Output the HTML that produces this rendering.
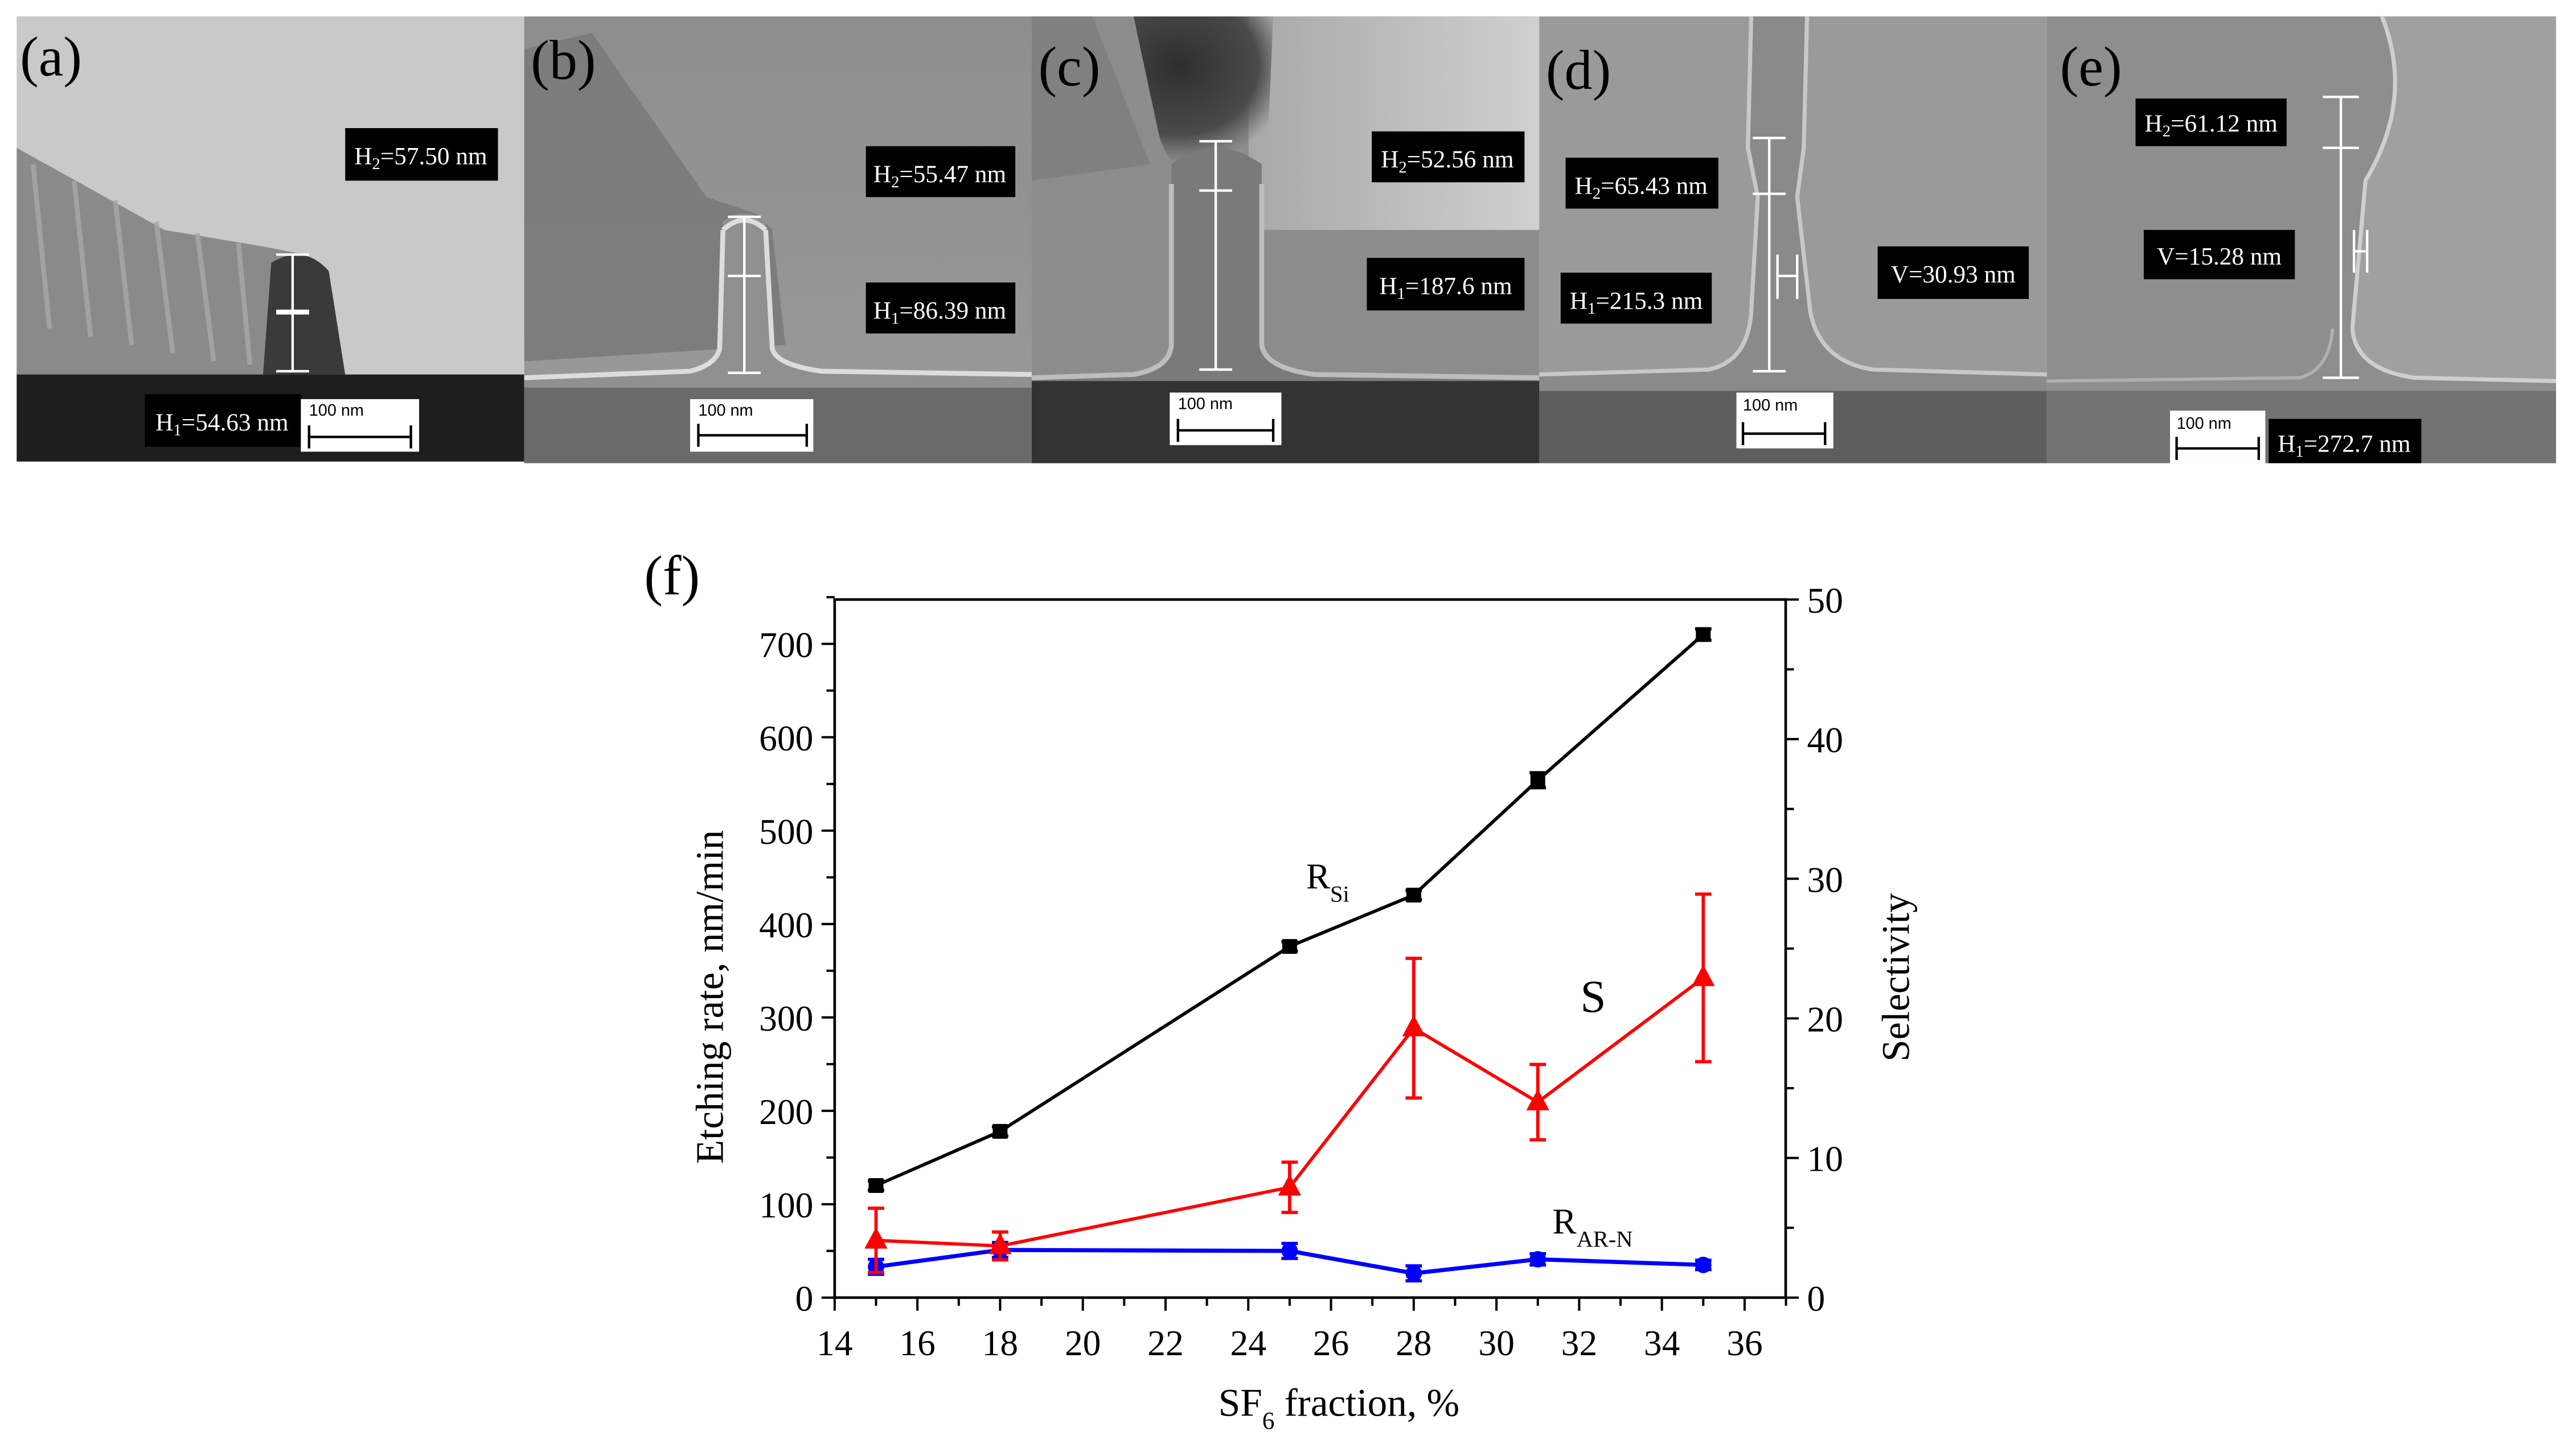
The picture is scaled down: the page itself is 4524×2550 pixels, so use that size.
<!DOCTYPE html>
<html><head><meta charset="utf-8"><style>
html,body{margin:0;padding:0;background:#fff}
svg{display:block}
text{font-family:"Liberation Serif",serif}
</style></head><body>
<svg id="fig" width="4524" height="2550" viewBox="0 0 1568 884">
<defs>
<linearGradient id="gb" x1="0" y1="0" x2="0" y2="1"><stop offset="0" stop-color="#8e8e8e"/><stop offset="1" stop-color="#9a9a9a"/></linearGradient>
<linearGradient id="gcr" x1="0" y1="0" x2="1" y2="0"><stop offset="0" stop-color="#a8a8a8"/><stop offset="1" stop-color="#d0d0d0"/></linearGradient>
<radialGradient id="gcd" cx="0.5" cy="0.3" r="0.6"><stop offset="0" stop-color="#2e2e2e"/><stop offset="0.7" stop-color="#4a4a4a"/><stop offset="1" stop-color="#5a5a5a" stop-opacity="0"/></radialGradient>
</defs>

<!-- Panel a -->
<g>
<rect x="10" y="10" width="309" height="271" fill="#c9c9c9"/>
<path d="M10 90 L100 140 L160 150 L185 155 L200 180 L205 228 L10 228 Z" fill="#8a8a8a"/>
<g stroke="#a8a8a8" stroke-width="3" opacity="0.8"><line x1="20" y1="100" x2="30" y2="200"/><line x1="45" y1="110" x2="55" y2="205"/><line x1="70" y1="122" x2="80" y2="210"/><line x1="95" y1="135" x2="105" y2="215"/><line x1="120" y1="142" x2="130" y2="220"/><line x1="145" y1="148" x2="152" y2="222"/></g>
<path d="M165 160 Q185 148 200 165 L210 228 L160 228 Z" fill="#3a3a3a"/>
<rect x="10" y="228" width="309" height="53" fill="#1e1e1e"/>
<g stroke="#fff" stroke-width="1.5"><line x1="178" y1="155" x2="178" y2="226"/><line x1="168" y1="155" x2="188" y2="155"/><line x1="168" y1="190" x2="188" y2="190" stroke-width="3"/><line x1="168" y1="226" x2="188" y2="226"/></g>
<rect x="210" y="78" width="93" height="32" fill="#000"/><text x="256" y="100" fill="#fff" font-size="15" text-anchor="middle">H<tspan font-size="10" dy="3">2</tspan><tspan dy="-3">=57.50 nm</tspan></text>
<rect x="88" y="240" width="95" height="32" fill="#000"/><text x="135" y="262" fill="#fff" font-size="15" text-anchor="middle">H<tspan font-size="10" dy="3">1</tspan><tspan dy="-3">=54.63 nm</tspan></text>
<rect x="183" y="243" width="72" height="32" fill="#fff"/><text x="188" y="253" font-size="10" style="font-family:'Liberation Sans',sans-serif">100 nm</text>
<g stroke="#000" stroke-width="1.5"><line x1="188" y1="266" x2="250" y2="266"/><line x1="188" y1="259" x2="188" y2="273"/><line x1="250" y1="259" x2="250" y2="273"/></g>
<text x="12" y="46" font-size="34">(a)</text>
</g>

<!-- Panel b -->
<g>
<rect x="319" y="10" width="309" height="272" fill="url(#gb)"/>
<path d="M319 30 L360 20 L430 120 L460 130 L470 140 L478 210 L319 220 Z" fill="#777" opacity="0.8"/>
<path d="M440 135 Q453 125 466 135 L470 212 Q480 222 500 225 L628 228 L628 282 L319 282 L319 230 L420 225 Q436 222 438 212 Z" fill="#909090"/>
<path d="M440 140 Q453 128 466 140" stroke="#ddd" stroke-width="3" fill="none"/>
<path d="M440 140 L438 212 Q436 222 420 226 L319 230" stroke="#dcdcdc" stroke-width="3" fill="none"/>
<path d="M466 140 L470 212 Q472 222 500 226 L628 228" stroke="#dcdcdc" stroke-width="3" fill="none"/>
<rect x="319" y="236" width="309" height="46" fill="#6a6a6a"/>
<g stroke="#fff" stroke-width="1.5"><line x1="453" y1="132" x2="453" y2="227"/><line x1="443" y1="132" x2="463" y2="132"/><line x1="443" y1="168" x2="463" y2="168"/><line x1="443" y1="227" x2="463" y2="227"/></g>
<rect x="527" y="89" width="91" height="31" fill="#000"/><text x="572" y="111" fill="#fff" font-size="15" text-anchor="middle">H<tspan font-size="10" dy="3">2</tspan><tspan dy="-3">=55.47 nm</tspan></text>
<rect x="527" y="172" width="91" height="31" fill="#000"/><text x="572" y="194" fill="#fff" font-size="15" text-anchor="middle">H<tspan font-size="10" dy="3">1</tspan><tspan dy="-3">=86.39 nm</tspan></text>
<rect x="420" y="243" width="75" height="32" fill="#fff"/><text x="425" y="253" font-size="10" style="font-family:'Liberation Sans',sans-serif">100 nm</text>
<g stroke="#000" stroke-width="1.5"><line x1="425" y1="265" x2="491" y2="265"/><line x1="425" y1="258" x2="425" y2="272"/><line x1="491" y1="258" x2="491" y2="272"/></g>
<text x="323" y="48" font-size="34">(b)</text>
</g>

<!-- Panel c -->
<g>
<rect x="628" y="10" width="309" height="272" fill="#8c8c8c"/>
<rect x="760" y="10" width="177" height="130" fill="url(#gcr)"/>
<path d="M660 10 L775 10 L772 80 Q768 110 740 110 Q712 110 705 80 L690 10Z" fill="url(#gcd)"/>
<path d="M628 10 L665 10 L700 100 L628 110Z" fill="#7a7a7a" opacity="0.7"/>
<path d="M713 100 Q740 80 768 100 L768 210 Q775 225 800 228 L937 230 L937 282 L628 282 L628 230 L690 228 Q712 225 713 210 Z" fill="#7a7a7a"/>
<path d="M713 112 L713 210 Q712 224 690 228 L628 230" stroke="#bdbdbd" stroke-width="3" fill="none"/>
<path d="M768 112 L768 210 Q770 224 800 228 L937 230" stroke="#bdbdbd" stroke-width="3" fill="none"/>
<rect x="628" y="232" width="309" height="50" fill="#333"/>
<g stroke="#fff" stroke-width="1.5"><line x1="740" y1="86" x2="740" y2="225"/><line x1="730" y1="86" x2="750" y2="86"/><line x1="730" y1="116" x2="750" y2="116"/><line x1="730" y1="225" x2="750" y2="225"/></g>
<rect x="835" y="80" width="93" height="31" fill="#000"/><text x="881" y="102" fill="#fff" font-size="15" text-anchor="middle">H<tspan font-size="10" dy="3">2</tspan><tspan dy="-3">=52.56 nm</tspan></text>
<rect x="832" y="157" width="96" height="32" fill="#000"/><text x="880" y="179" fill="#fff" font-size="15" text-anchor="middle">H<tspan font-size="10" dy="3">1</tspan><tspan dy="-3">=187.6 nm</tspan></text>
<rect x="712" y="239" width="68" height="32" fill="#fff"/><text x="717" y="249" font-size="10" style="font-family:'Liberation Sans',sans-serif">100 nm</text>
<g stroke="#000" stroke-width="1.5"><line x1="717" y1="262" x2="775" y2="262"/><line x1="717" y1="255" x2="717" y2="269"/><line x1="775" y1="255" x2="775" y2="269"/></g>
<text x="632" y="52" font-size="34">(c)</text>
</g>

<!-- Panel d -->
<g>
<rect x="937" y="10" width="309" height="272" fill="#9a9a9a"/>
<path d="M1066 10 L1100 10 L1098 90 L1094 120 L1102 190 Q1108 220 1140 225 L1246 228 L1246 240 L937 240 L937 228 L1040 225 Q1064 220 1066 190 L1070 120 L1064 90 Z" fill="#8a8a8a"/>
<path d="M1066 10 L1064 90 L1070 120 L1066 190 Q1064 220 1040 225 L937 228" stroke="#c8c8c8" stroke-width="2.5" fill="none"/>
<path d="M1100 10 L1098 90 L1094 120 L1102 190 Q1108 220 1140 225 L1246 228" stroke="#c8c8c8" stroke-width="2.5" fill="none"/>
<rect x="937" y="238" width="309" height="44" fill="#5e5e5e"/>
<g stroke="#fff" stroke-width="1.5"><line x1="1077" y1="84" x2="1077" y2="226"/><line x1="1067" y1="84" x2="1087" y2="84"/><line x1="1067" y1="118" x2="1087" y2="118"/><line x1="1067" y1="226" x2="1087" y2="226"/>
<line x1="1082" y1="155" x2="1082" y2="182"/><line x1="1094" y1="155" x2="1094" y2="182"/><line x1="1082" y1="168" x2="1094" y2="168"/></g>
<rect x="953" y="96" width="93" height="31" fill="#000"/><text x="999" y="118" fill="#fff" font-size="15" text-anchor="middle">H<tspan font-size="10" dy="3">2</tspan><tspan dy="-3">=65.43 nm</tspan></text>
<rect x="950" y="166" width="92" height="31" fill="#000"/><text x="996" y="188" fill="#fff" font-size="15" text-anchor="middle">H<tspan font-size="10" dy="3">1</tspan><tspan dy="-3">=215.3 nm</tspan></text>
<rect x="1143" y="150" width="92" height="32" fill="#000"/><text x="1189" y="172" fill="#fff" font-size="15" text-anchor="middle">V=30.93 nm</text>
<rect x="1057" y="239" width="59" height="34" fill="#fff"/><text x="1061" y="250" font-size="10" style="font-family:'Liberation Sans',sans-serif">100 nm</text>
<g stroke="#000" stroke-width="1.5"><line x1="1061" y1="264" x2="1111" y2="264"/><line x1="1061" y1="257" x2="1061" y2="271"/><line x1="1111" y1="257" x2="1111" y2="271"/></g>
<text x="941" y="54" font-size="34">(d)</text>
</g>

<!-- Panel e -->
<g>
<rect x="1246" y="10" width="310" height="272" fill="#8e8e8e"/>
<path d="M1450 10 Q1470 60 1440 110 L1432 200 Q1434 225 1470 230 L1556 232 L1556 10Z" fill="#a0a0a0"/>
<path d="M1450 10 Q1470 60 1440 110 L1432 200 Q1434 225 1470 230 L1556 232" stroke="#cfcfcf" stroke-width="2.5" fill="none"/>
<path d="M1246 232 L1400 230 Q1418 225 1420 200" stroke="#b0b0b0" stroke-width="2" fill="none"/>
<rect x="1246" y="238" width="310" height="44" fill="#727272"/>
<g stroke="#fff" stroke-width="1.5"><line x1="1425" y1="59" x2="1425" y2="230"/><line x1="1414" y1="59" x2="1436" y2="59"/><line x1="1414" y1="90" x2="1436" y2="90"/><line x1="1414" y1="230" x2="1436" y2="230"/>
<line x1="1433" y1="140" x2="1433" y2="166"/><line x1="1441" y1="140" x2="1441" y2="166"/><line x1="1433" y1="153" x2="1441" y2="153"/></g>
<rect x="1300" y="60" width="92" height="29" fill="#000"/><text x="1346" y="80" fill="#fff" font-size="15" text-anchor="middle">H<tspan font-size="10" dy="3">2</tspan><tspan dy="-3">=61.12 nm</tspan></text>
<rect x="1305" y="140" width="92" height="30" fill="#000"/><text x="1351" y="161" fill="#fff" font-size="15" text-anchor="middle">V=15.28 nm</text>
<rect x="1321" y="250" width="58" height="32" fill="#fff"/><text x="1325" y="261" font-size="10" style="font-family:'Liberation Sans',sans-serif">100 nm</text>
<g stroke="#000" stroke-width="1.5"><line x1="1325" y1="273" x2="1375" y2="273"/><line x1="1325" y1="266" x2="1325" y2="280"/><line x1="1375" y1="266" x2="1375" y2="280"/></g>
<rect x="1381" y="255" width="93" height="27" fill="#000"/><text x="1427" y="275" fill="#fff" font-size="15" text-anchor="middle">H<tspan font-size="10" dy="3">1</tspan><tspan dy="-3">=272.7 nm</tspan></text>
<text x="1254" y="52" font-size="34">(e)</text>
</g>

<!-- Chart f -->
<g id="chart">
<text x="392" y="362" font-size="34">(f)</text>
<rect x="508" y="365" width="579" height="425" fill="none" stroke="#000" stroke-width="1.6"/>
<text transform="translate(440,607) rotate(-90)" font-size="24" text-anchor="middle">Etching rate, nm/min</text>
<text transform="translate(1162,595) rotate(-90)" font-size="24" text-anchor="middle">Selectivity</text>
<text x="815" y="862" font-size="24" text-anchor="middle">SF<tspan font-size="15" dy="8">6</tspan><tspan dy="-8"> fraction, %</tspan></text>
<text x="795" y="541" font-size="22">R<tspan font-size="14" dy="8">Si</tspan></text>
<text x="962" y="616" font-size="28">S</text>
<text x="945" y="751" font-size="22">R<tspan font-size="14" dy="8">AR-N</tspan></text>
<g id="axes"></g>
<g id="series"></g>
</g>
</svg>
<script>
const xCats = [15, 18, 25, 28, 31, 35];
const rSi = [120, 178, 376, 431, 554, 710];
const rSiErr = [5, 5, 5, 5, 8, 6];
const rArN = [33, 51, 50, 26, 41, 35];
const rArNErr = [8, 8, 8, 8, 6, 5];
const selectivity = [4.1, 3.7, 7.9, 19.3, 14.0, 22.9];
const selErrHi = [2.3, 1.0, 1.8, 5.0, 2.7, 6.0];
const selErrLo = [2.3, 1.0, 1.8, 5.0, 2.7, 6.0];
const xTicks = [14, 16, 18, 20, 22, 24, 26, 28, 30, 32, 34, 36];
const yTicks = [0, 100, 200, 300, 400, 500, 600, 700];
const y2Ticks = [0, 10, 20, 30, 40, 50];

const NS = "http://www.w3.org/2000/svg";
const X0 = 508, X1 = 1087, Y0 = 790, Y1 = 365;
function xs(v){ return 508 + (v - 14) * (1062 - 508) / 22; }
function ys(v){ return 790 - v * (790 - 392) / 700; }
function ys2(v){ return 790 - v * (790 - 365) / 50; }
function mk(tag, attrs, parent){ const e = document.createElementNS(NS, tag); for (const k in attrs) e.setAttribute(k, attrs[k]); parent.appendChild(e); return e; }
const axes = document.getElementById('axes');
const series = document.getElementById('series');

for (let v = 14; v <= 37; v++) {
  const major = v % 2 === 0;
  const t = mk('line', {x1: xs(v), x2: xs(v), y1: Y0, y2: Y0 + (major ? 8 : 5), stroke: '#000', 'stroke-width': 1.4}, axes);
  
  
}
xTicks.forEach(v => {
  const t = mk('text', {x: xs(v), y: 825, 'font-size': 22, 'text-anchor': 'middle'}, axes);
  t.textContent = v;
  
  
});
for (let v = 0; v <= 750; v += 50) {
  const major = v % 100 === 0;
  const t = mk('line', {x1: X0, x2: X0 - (major ? 8 : 5), y1: ys(v), y2: ys(v), stroke: '#000', 'stroke-width': 1.4}, axes);
  
  
}
yTicks.forEach(v => {
  const t = mk('text', {x: 495, y: ys(v) + 8, 'font-size': 22, 'text-anchor': 'end'}, axes);
  t.textContent = v;
  
  
});
for (let v = 0; v <= 50; v += 5) {
  const major = v % 10 === 0;
  const t = mk('line', {x1: X1, x2: X1 + (major ? 8 : 5), y1: ys2(v), y2: ys2(v), stroke: '#000', 'stroke-width': 1.4}, axes);
  
  
}
y2Ticks.forEach(v => {
  const t = mk('text', {x: 1100, y: ys2(v) + 8, 'font-size': 22}, axes);
  t.textContent = v;
  
  
});

function errbar(x, yTop, yBot, color){
  const g = mk('g', {stroke: color, 'stroke-width': 2}, series);
  
  
  mk('line', {x1: x, x2: x, y1: yTop, y2: yBot}, g);
  mk('line', {x1: x - 5, x2: x + 5, y1: yTop, y2: yTop}, g);
  mk('line', {x1: x - 5, x2: x + 5, y1: yBot, y2: yBot}, g);
}

const lSi = mk('polyline', {points: xCats.map((c, i) => xs(c) + ',' + ys(rSi[i])).join(' '), fill: 'none', stroke: '#000', 'stroke-width': 2}, series);


xCats.forEach((c, i) => {
  errbar(xs(c), ys(rSi[i] + rSiErr[i]), ys(rSi[i] - rSiErr[i]), '#000');
  const m = mk('rect', {x: xs(c) - 4.5, y: ys(rSi[i]) - 4.5, width: 9, height: 9, fill: '#000'}, series);
  
  
});
const lAr = mk('polyline', {points: xCats.map((c, i) => xs(c) + ',' + ys(rArN[i])).join(' '), fill: 'none', stroke: '#0000ff', 'stroke-width': 2.5}, series);


xCats.forEach((c, i) => {
  errbar(xs(c), ys(rArN[i] + rArNErr[i]), ys(rArN[i] - rArNErr[i]), '#0000ff');
  const m = mk('circle', {cx: xs(c), cy: ys(rArN[i]), r: 5, fill: '#0000ff'}, series);
  
  
});
const lS = mk('polyline', {points: xCats.map((c, i) => xs(c) + ',' + ys2(selectivity[i])).join(' '), fill: 'none', stroke: '#ff0000', 'stroke-width': 2}, series);


xCats.forEach((c, i) => {
  errbar(xs(c), ys2(selectivity[i] + selErrHi[i]), ys2(selectivity[i] - selErrLo[i]), '#ff0000');
  const x = xs(c), y = ys2(selectivity[i]);
  const m = mk('polygon', {points: `${x},${y - 8} ${x - 7},${y + 5} ${x + 7},${y + 5}`, fill: '#ff0000'}, series);
  
  
});
</script>
</body></html>
